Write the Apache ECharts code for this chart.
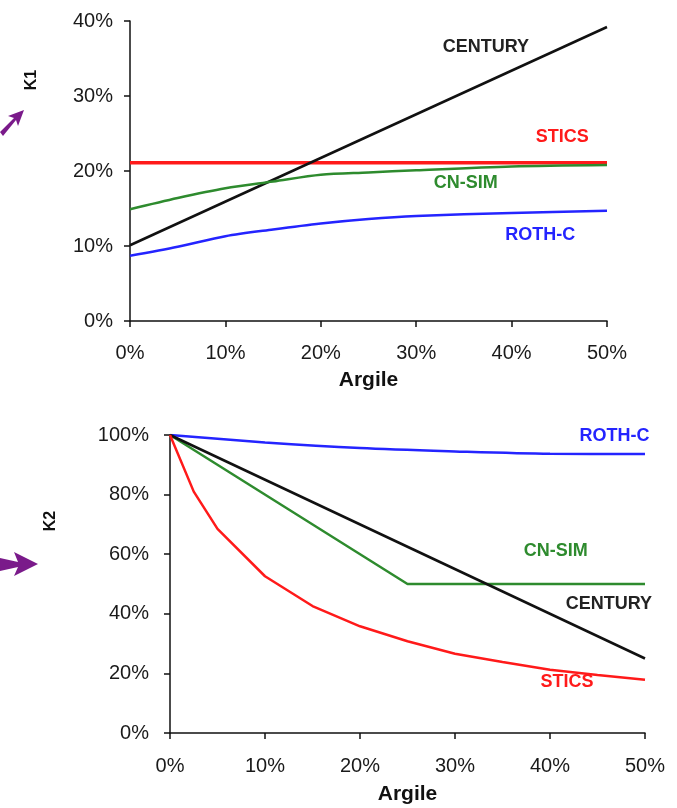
<!DOCTYPE html>
<html>
<head>
<meta charset="utf-8">
<script src="https://cdn.jsdelivr.net/npm/echarts@6/dist/echarts.min.js"></script>
<style>
  html, body { margin: 0; padding: 0; background: #fff; }
  #main { width: 677px; height: 808px; }
</style>
</head>
<body>
<div id="main"></div>
<script>
// --- K1 chart (top) ---
var k1CenturyX = [0, 50];
var k1Century = [10.1, 39.2];
var k1SticsX = [0, 50];
var k1Stics = [21.1, 21.1];
var k1CnsimX = [0, 5, 10, 15, 20, 25, 30, 40, 50];
var k1Cnsim = [14.9, 16.4, 17.7, 18.6, 19.5, 19.8, 20.1, 20.6, 20.8];
var k1RothX = [0, 5, 10, 15, 20, 25, 30, 40, 50];
var k1Roth = [8.7, 9.9, 11.3, 12.2, 13.0, 13.6, 14.0, 14.4, 14.7];

// --- K2 chart (bottom) ---
var k2RothX = [0, 10, 20, 30, 40, 50];
var k2Roth = [100, 97.5, 95.6, 94.5, 93.7, 93.6];
var k2CnsimX = [0, 25, 50];
var k2Cnsim = [100, 50, 50];
var k2CenturyX = [0, 50];
var k2Century = [100, 25];
var k2SticsX = [0, 2.5, 5, 10, 15, 20, 25, 30, 35, 40, 45, 50];
var k2Stics = [100, 81, 68.5, 52.6, 42.6, 35.8, 30.8, 26.6, 23.8, 21.2, 19.5, 17.9];

var FONT = '"Liberation Sans", Arial, sans-serif';
var C_BLACK = '#111111', C_RED = '#ff1a1a', C_GREEN = '#2e8b2e', C_BLUE = '#2424ff';

function pairs(xs, ys) {
  var list = [];
  for (var i = 0; i < xs.length; i++) list.push([xs[i], ys[i]]);
  return list;
}

// series name written next to its curve, placed in data coordinates
function tag(text, color, coord) {
  return {
    symbol: 'circle',
    symbolSize: 1,
    silent: true,
    itemStyle: { color: 'rgba(0,0,0,0)' },
    data: [{ coord: coord, value: 0 }],
    label: {
      show: true, position: 'inside', formatter: text,
      color: color, fontFamily: FONT, fontWeight: 'bold', fontSize: 18
    }
  };
}

function line(name, xi, xs, ys, color, smooth, width, mark) {
  return {
    name: name, type: 'line', xAxisIndex: xi, yAxisIndex: xi,
    data: pairs(xs, ys), showSymbol: false, smooth: smooth,
    lineStyle: { color: color, width: width },
    itemStyle: { color: color },
    markPoint: mark, z: 3
  };
}

function xAxisDef(idx, margin, gap) {
  return {
    type: 'value', gridIndex: idx, min: 0, max: 50, interval: 10,
    name: 'Argile', nameLocation: 'middle', nameGap: gap,
    nameTextStyle: { fontFamily: FONT, fontWeight: 'bold', fontSize: 21, color: '#111' },
    axisLine: { lineStyle: { color: '#111', width: 1.5 } },
    axisTick: { show: true, length: 6, lineStyle: { color: '#111', width: 1.5 } },
    axisLabel: { formatter: '{value}%', fontFamily: FONT, fontSize: 20, color: '#1a1a1a', margin: margin },
    splitLine: { show: false }
  };
}

function yAxisDef(idx, max, interval, margin) {
  return {
    type: 'value', gridIndex: idx, min: 0, max: max, interval: interval,
    axisLine: { show: true, lineStyle: { color: '#111', width: 1.5 } },
    axisTick: { show: true, length: 6, lineStyle: { color: '#111', width: 1.5 } },
    axisLabel: { formatter: '{value}%', fontFamily: FONT, fontSize: 20, color: '#1a1a1a', margin: margin },
    splitLine: { show: false }
  };
}

var myChart = echarts.init(document.getElementById('main'));

var option = {
  backgroundColor: '#ffffff',
  animation: false,
  grid: [
    { left: 130, top: 21, width: 477, height: 300 },
    { left: 170, top: 435, width: 475, height: 298 }
  ],
  xAxis: [xAxisDef(0, 22, 49), xAxisDef(1, 23, 51)],
  yAxis: [yAxisDef(0, 40, 10, 17), yAxisDef(1, 100, 20, 21)],
  graphic: [
    { type: 'text', x: 32, y: 80, rotation: Math.PI / 2,
      style: { text: 'K1', fontFamily: FONT, fontWeight: 'bold', fontSize: 16, fill: '#111',
               textAlign: 'center', textVerticalAlign: 'middle' } },
    { type: 'text', x: 51, y: 521, rotation: Math.PI / 2,
      style: { text: 'K2', fontFamily: FONT, fontWeight: 'bold', fontSize: 16, fill: '#111',
               textAlign: 'center', textVerticalAlign: 'middle' } },
    // decorative purple arrows from the slide
    { type: 'polygon', shape: { points: [[0, 132], [14, 118], [8, 116], [24, 110], [18, 126], [16, 120], [3, 136]] },
      style: { fill: '#7a1a8a' } },
    { type: 'polygon', shape: { points: [[0, 558], [18, 562], [14, 552], [38, 564], [14, 576], [18, 567], [0, 571]] },
      style: { fill: '#7a1a8a' } }
  ],
  series: [
    line('STICS', 0, k1SticsX, k1Stics, C_RED, false, 3.5, tag('STICS', C_RED, [45.3, 24.5])),
    line('CENTURY', 0, k1CenturyX, k1Century, C_BLACK, false, 2.5, tag('CENTURY', '#222', [37.3, 36.5])),
    line('CN-SIM', 0, k1CnsimX, k1Cnsim, C_GREEN, 0.3, 2.5, tag('CN-SIM', C_GREEN, [35.2, 18.4])),
    line('ROTH-C', 0, k1RothX, k1Roth, C_BLUE, 0.3, 2.5, tag('ROTH-C', C_BLUE, [43.0, 11.5])),

    line('ROTH-C', 1, k2RothX, k2Roth, C_BLUE, 0.3, 2.5, tag('ROTH-C', C_BLUE, [46.8, 99.7])),
    line('CN-SIM', 1, k2CnsimX, k2Cnsim, C_GREEN, false, 2.5, tag('CN-SIM', C_GREEN, [40.6, 61.1])),
    line('CENTURY', 1, k2CenturyX, k2Century, C_BLACK, false, 2.5, tag('CENTURY', '#222', [46.2, 43.3])),
    line('STICS', 1, k2SticsX, k2Stics, C_RED, false, 2.5, tag('STICS', C_RED, [41.8, 17.1]))
  ]
};
myChart.setOption(option);
</script>
</body>
</html>
